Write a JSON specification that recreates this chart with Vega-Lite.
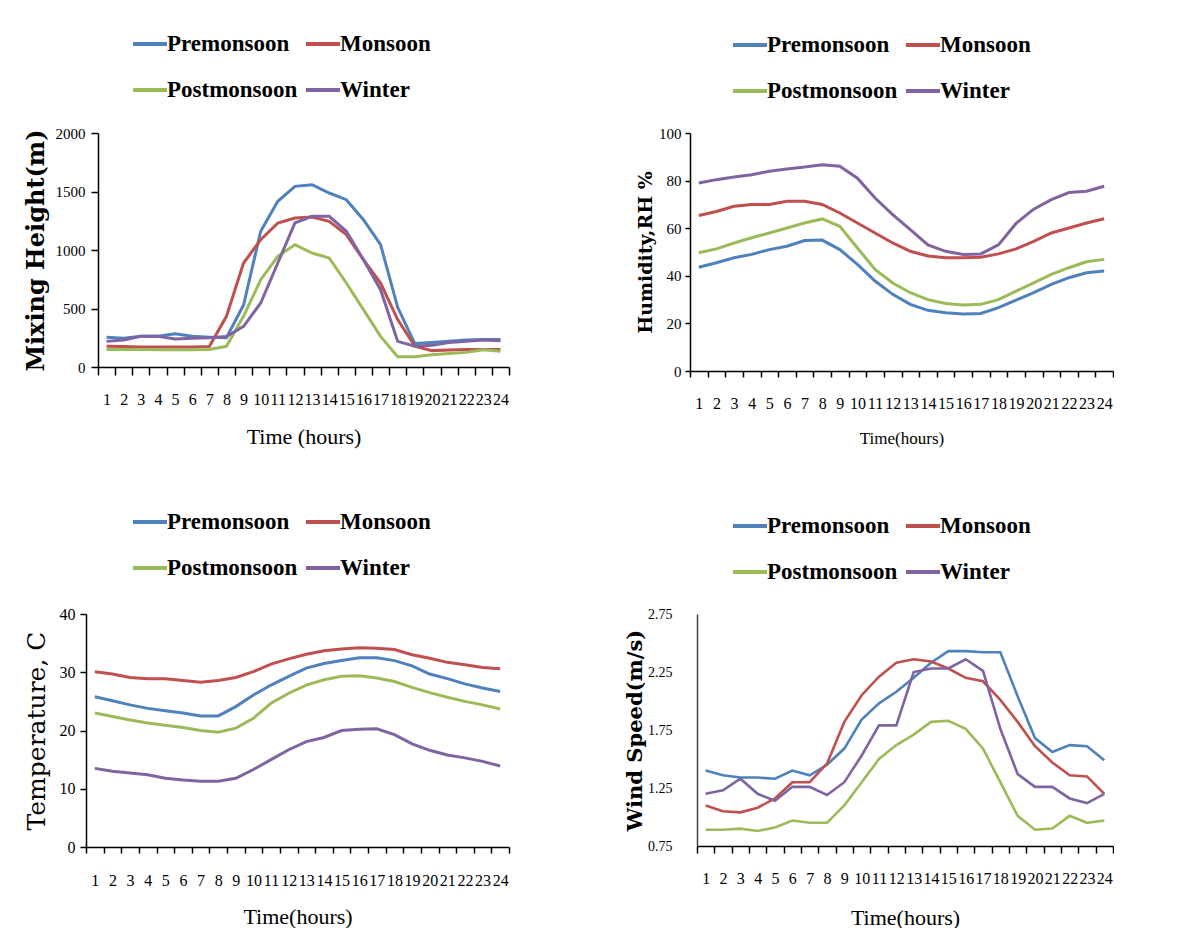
{
  "$schema": "https://vega.github.io/schema/vega-lite/v6.json",
  "padding": {"left": 23, "top": 25, "right": 0, "bottom": 0},
  "background": "white",
  "config": {
    "view": {"stroke": null},
    "axis": {"labelFont": "Liberation Serif", "labelColor": "black", "domainColor": "black", "tickColor": "black", "domainWidth": 1.5, "tickWidth": 1.5, "grid": false, "titleColor": "black"},
    "legend": {"orient": "none", "direction": "horizontal", "columns": 2, "symbolType": "stroke", "symbolSize": 1156, "symbolStrokeWidth": 4, "labelFont": "Liberation Serif", "labelFontSize": 23, "labelFontWeight": "bold", "labelColor": "black", "labelOffset": -2, "columnPadding": 0, "rowPadding": 15, "padding": 0, "labelLimit": 300, "title": null}
  },
  "datasets": {
    "mixing": [
      {"hour": 1, "Premonsoon": 255, "Monsoon": 177, "Postmonsoon": 150, "Winter": 219},
      {"hour": 2, "Premonsoon": 245, "Monsoon": 175, "Postmonsoon": 150, "Winter": 230},
      {"hour": 3, "Premonsoon": 262, "Monsoon": 172, "Postmonsoon": 150, "Winter": 262},
      {"hour": 4, "Premonsoon": 262, "Monsoon": 170, "Postmonsoon": 148, "Winter": 262},
      {"hour": 5, "Premonsoon": 285, "Monsoon": 170, "Postmonsoon": 148, "Winter": 240},
      {"hour": 6, "Premonsoon": 262, "Monsoon": 170, "Postmonsoon": 148, "Winter": 245},
      {"hour": 7, "Premonsoon": 255, "Monsoon": 175, "Postmonsoon": 150, "Winter": 250},
      {"hour": 8, "Premonsoon": 250, "Monsoon": 433, "Postmonsoon": 177, "Winter": 260},
      {"hour": 9, "Premonsoon": 530, "Monsoon": 889, "Postmonsoon": 433, "Winter": 348},
      {"hour": 10, "Premonsoon": 1160, "Monsoon": 1088, "Postmonsoon": 746, "Winter": 547},
      {"hour": 11, "Premonsoon": 1416, "Monsoon": 1231, "Postmonsoon": 946, "Winter": 889},
      {"hour": 12, "Premonsoon": 1544, "Monsoon": 1274, "Postmonsoon": 1046, "Winter": 1231},
      {"hour": 13, "Premonsoon": 1558, "Monsoon": 1282, "Postmonsoon": 974, "Winter": 1288},
      {"hour": 14, "Premonsoon": 1487, "Monsoon": 1245, "Postmonsoon": 932, "Winter": 1288},
      {"hour": 15, "Premonsoon": 1430, "Monsoon": 1131, "Postmonsoon": 718, "Winter": 1160},
      {"hour": 16, "Premonsoon": 1259, "Monsoon": 917, "Postmonsoon": 490, "Winter": 917},
      {"hour": 17, "Premonsoon": 1046, "Monsoon": 718, "Postmonsoon": 262, "Winter": 661},
      {"hour": 18, "Premonsoon": 510, "Monsoon": 405, "Postmonsoon": 88, "Winter": 219},
      {"hour": 19, "Premonsoon": 200, "Monsoon": 177, "Postmonsoon": 88, "Winter": 177},
      {"hour": 20, "Premonsoon": 210, "Monsoon": 140, "Postmonsoon": 105, "Winter": 185},
      {"hour": 21, "Premonsoon": 220, "Monsoon": 145, "Postmonsoon": 115, "Winter": 210},
      {"hour": 22, "Premonsoon": 230, "Monsoon": 150, "Postmonsoon": 125, "Winter": 220},
      {"hour": 23, "Premonsoon": 235, "Monsoon": 150, "Postmonsoon": 148, "Winter": 230},
      {"hour": 24, "Premonsoon": 235, "Monsoon": 150, "Postmonsoon": 134, "Winter": 225}
    ],
    "humidity": [
      {"hour": 1, "Premonsoon": 43.6, "Monsoon": 65.3, "Postmonsoon": 49.7, "Winter": 79},
      {"hour": 2, "Premonsoon": 45.5, "Monsoon": 67, "Postmonsoon": 51.3, "Winter": 80.4},
      {"hour": 3, "Premonsoon": 47.6, "Monsoon": 69.2, "Postmonsoon": 53.8, "Winter": 81.5},
      {"hour": 4, "Premonsoon": 49, "Monsoon": 70, "Postmonsoon": 56, "Winter": 82.5},
      {"hour": 5, "Premonsoon": 51, "Monsoon": 70, "Postmonsoon": 58, "Winter": 83.9},
      {"hour": 6, "Premonsoon": 52.4, "Monsoon": 71.3, "Postmonsoon": 60.1, "Winter": 84.9},
      {"hour": 7, "Premonsoon": 54.8, "Monsoon": 71.3, "Postmonsoon": 62.2, "Winter": 85.7},
      {"hour": 8, "Premonsoon": 55, "Monsoon": 70, "Postmonsoon": 63.9, "Winter": 86.7},
      {"hour": 9, "Premonsoon": 51, "Monsoon": 66.4, "Postmonsoon": 60.8, "Winter": 86},
      {"hour": 10, "Premonsoon": 44.8, "Monsoon": 62.2, "Postmonsoon": 51.7, "Winter": 81},
      {"hour": 11, "Premonsoon": 37.8, "Monsoon": 58, "Postmonsoon": 42.7, "Winter": 72.7},
      {"hour": 12, "Premonsoon": 32.2, "Monsoon": 53.8, "Postmonsoon": 37, "Winter": 65.7},
      {"hour": 13, "Premonsoon": 28, "Monsoon": 50.3, "Postmonsoon": 32.9, "Winter": 59.4},
      {"hour": 14, "Premonsoon": 25.5, "Monsoon": 48.3, "Postmonsoon": 30, "Winter": 53},
      {"hour": 15, "Premonsoon": 24.5, "Monsoon": 47.6, "Postmonsoon": 28.4, "Winter": 50.3},
      {"hour": 16, "Premonsoon": 24, "Monsoon": 47.6, "Postmonsoon": 27.7, "Winter": 49},
      {"hour": 17, "Premonsoon": 24.2, "Monsoon": 47.8, "Postmonsoon": 28, "Winter": 49.2},
      {"hour": 18, "Premonsoon": 26.6, "Monsoon": 49.2, "Postmonsoon": 30, "Winter": 53},
      {"hour": 19, "Premonsoon": 29.8, "Monsoon": 51.3, "Postmonsoon": 33.6, "Winter": 62},
      {"hour": 20, "Premonsoon": 32.9, "Monsoon": 54.5, "Postmonsoon": 37, "Winter": 68},
      {"hour": 21, "Premonsoon": 36.4, "Monsoon": 58, "Postmonsoon": 40.6, "Winter": 72},
      {"hour": 22, "Premonsoon": 39.2, "Monsoon": 60.1, "Postmonsoon": 43.4, "Winter": 75},
      {"hour": 23, "Premonsoon": 41.3, "Monsoon": 62.2, "Postmonsoon": 45.9, "Winter": 75.5},
      {"hour": 24, "Premonsoon": 42, "Monsoon": 64, "Postmonsoon": 46.9, "Winter": 77.6}
    ],
    "temperature": [
      {"hour": 1, "Premonsoon": 25.8, "Monsoon": 30.1, "Postmonsoon": 23, "Winter": 13.5},
      {"hour": 2, "Premonsoon": 25.1, "Monsoon": 29.7, "Postmonsoon": 22.4, "Winter": 13},
      {"hour": 3, "Premonsoon": 24.4, "Monsoon": 29.1, "Postmonsoon": 21.8, "Winter": 12.7},
      {"hour": 4, "Premonsoon": 23.8, "Monsoon": 28.9, "Postmonsoon": 21.3, "Winter": 12.4},
      {"hour": 5, "Premonsoon": 23.4, "Monsoon": 28.9, "Postmonsoon": 20.9, "Winter": 11.8},
      {"hour": 6, "Premonsoon": 23, "Monsoon": 28.6, "Postmonsoon": 20.5, "Winter": 11.5},
      {"hour": 7, "Premonsoon": 22.5, "Monsoon": 28.3, "Postmonsoon": 20, "Winter": 11.3},
      {"hour": 8, "Premonsoon": 22.5, "Monsoon": 28.6, "Postmonsoon": 19.7, "Winter": 11.3},
      {"hour": 9, "Premonsoon": 24.1, "Monsoon": 29.1, "Postmonsoon": 20.4, "Winter": 11.8},
      {"hour": 10, "Premonsoon": 26.1, "Monsoon": 30.1, "Postmonsoon": 22.1, "Winter": 13.3},
      {"hour": 11, "Premonsoon": 27.8, "Monsoon": 31.4, "Postmonsoon": 24.7, "Winter": 15},
      {"hour": 12, "Premonsoon": 29.3, "Monsoon": 32.3, "Postmonsoon": 26.4, "Winter": 16.7},
      {"hour": 13, "Premonsoon": 30.7, "Monsoon": 33.1, "Postmonsoon": 27.8, "Winter": 18.1},
      {"hour": 14, "Premonsoon": 31.5, "Monsoon": 33.7, "Postmonsoon": 28.7, "Winter": 18.8},
      {"hour": 15, "Premonsoon": 32, "Monsoon": 34, "Postmonsoon": 29.3, "Winter": 20},
      {"hour": 16, "Premonsoon": 32.5, "Monsoon": 34.2, "Postmonsoon": 29.4, "Winter": 20.2},
      {"hour": 17, "Premonsoon": 32.5, "Monsoon": 34.1, "Postmonsoon": 29, "Winter": 20.3},
      {"hour": 18, "Premonsoon": 32, "Monsoon": 33.9, "Postmonsoon": 28.4, "Winter": 19.3},
      {"hour": 19, "Premonsoon": 31.1, "Monsoon": 33, "Postmonsoon": 27.4, "Winter": 17.7},
      {"hour": 20, "Premonsoon": 29.7, "Monsoon": 32.4, "Postmonsoon": 26.5, "Winter": 16.6},
      {"hour": 21, "Premonsoon": 28.9, "Monsoon": 31.7, "Postmonsoon": 25.7, "Winter": 15.8},
      {"hour": 22, "Premonsoon": 28, "Monsoon": 31.3, "Postmonsoon": 25, "Winter": 15.3},
      {"hour": 23, "Premonsoon": 27.3, "Monsoon": 30.8, "Postmonsoon": 24.4, "Winter": 14.7},
      {"hour": 24, "Premonsoon": 26.7, "Monsoon": 30.6, "Postmonsoon": 23.7, "Winter": 13.9}
    ],
    "wind": [
      {"hour": 1, "Premonsoon": 1.40, "Monsoon": 1.10, "Postmonsoon": 0.89, "Winter": 1.20},
      {"hour": 2, "Premonsoon": 1.36, "Monsoon": 1.05, "Postmonsoon": 0.89, "Winter": 1.23},
      {"hour": 3, "Premonsoon": 1.34, "Monsoon": 1.04, "Postmonsoon": 0.90, "Winter": 1.33},
      {"hour": 4, "Premonsoon": 1.34, "Monsoon": 1.08, "Postmonsoon": 0.88, "Winter": 1.20},
      {"hour": 5, "Premonsoon": 1.33, "Monsoon": 1.16, "Postmonsoon": 0.91, "Winter": 1.14},
      {"hour": 6, "Premonsoon": 1.40, "Monsoon": 1.30, "Postmonsoon": 0.97, "Winter": 1.26},
      {"hour": 7, "Premonsoon": 1.36, "Monsoon": 1.30, "Postmonsoon": 0.95, "Winter": 1.26},
      {"hour": 8, "Premonsoon": 1.45, "Monsoon": 1.46, "Postmonsoon": 0.95, "Winter": 1.19},
      {"hour": 9, "Premonsoon": 1.59, "Monsoon": 1.82, "Postmonsoon": 1.10, "Winter": 1.30},
      {"hour": 10, "Premonsoon": 1.84, "Monsoon": 2.05, "Postmonsoon": 1.30, "Winter": 1.53},
      {"hour": 11, "Premonsoon": 1.98, "Monsoon": 2.21, "Postmonsoon": 1.50, "Winter": 1.79},
      {"hour": 12, "Premonsoon": 2.08, "Monsoon": 2.33, "Postmonsoon": 1.62, "Winter": 1.79},
      {"hour": 13, "Premonsoon": 2.20, "Monsoon": 2.36, "Postmonsoon": 1.71, "Winter": 2.25},
      {"hour": 14, "Premonsoon": 2.33, "Monsoon": 2.34, "Postmonsoon": 1.82, "Winter": 2.28},
      {"hour": 15, "Premonsoon": 2.43, "Monsoon": 2.28, "Postmonsoon": 1.83, "Winter": 2.28},
      {"hour": 16, "Premonsoon": 2.43, "Monsoon": 2.20, "Postmonsoon": 1.76, "Winter": 2.36},
      {"hour": 17, "Premonsoon": 2.42, "Monsoon": 2.17, "Postmonsoon": 1.59, "Winter": 2.26},
      {"hour": 18, "Premonsoon": 2.42, "Monsoon": 2.01, "Postmonsoon": 1.30, "Winter": 1.76},
      {"hour": 19, "Premonsoon": 2.04, "Monsoon": 1.82, "Postmonsoon": 1.01, "Winter": 1.37},
      {"hour": 20, "Premonsoon": 1.68, "Monsoon": 1.61, "Postmonsoon": 0.89, "Winter": 1.26},
      {"hour": 21, "Premonsoon": 1.56, "Monsoon": 1.47, "Postmonsoon": 0.90, "Winter": 1.26},
      {"hour": 22, "Premonsoon": 1.62, "Monsoon": 1.36, "Postmonsoon": 1.01, "Winter": 1.16},
      {"hour": 23, "Premonsoon": 1.61, "Monsoon": 1.35, "Postmonsoon": 0.95, "Winter": 1.12},
      {"hour": 24, "Premonsoon": 1.49, "Monsoon": 1.20, "Postmonsoon": 0.97, "Winter": 1.20}
    ]
  },
  "resolve": {"scale": {"color": "independent"}, "legend": {"color": "independent"}},
  "bounds": "full",
  "spacing": 56,
  "vconcat": [
    {
      "bounds": "flush",
      "spacing": 0,
      "resolve": {"scale": {"color": "independent"}, "legend": {"color": "independent"}},
      "hconcat": [
        {"width": 12, "height": 234, "data": {"values": []}, "mark": "point"},
        {
          "bounds": "flush",
          "spacing": 181,
          "resolve": {"scale": {"color": "independent"}, "legend": {"color": "independent"}},
          "hconcat": [
            {
              "width": 411, "height": 234,
              "data": {"name": "mixing"},
              "transform": [{"fold": ["Premonsoon", "Monsoon", "Postmonsoon", "Winter"], "as": ["season", "value"]}],
              "mark": {"type": "line", "strokeWidth": 3},
              "encoding": {
                "x": {"field": "hour", "type": "ordinal", "bandPosition": 0.5, "scale": {"type": "band", "paddingInner": 0, "paddingOuter": 0},
                  "axis": {"title": "Time (hours)", "labelAngle": 0, "tickBand": "extent", "tickSize": 8, "labelPadding": 16, "labelFontSize": 16, "labelOverlap": false, "titleFont": "Liberation Serif", "titleFontSize": 22, "titleFontWeight": "normal", "titlePadding": 19}},
                "y": {"field": "value", "type": "quantitative", "scale": {"domain": [0, 2000]},
                  "axis": {"title": "Mixing Height(m)", "values": [0, 500, 1000, 1500, 2000], "format": "d", "tickSize": 7, "labelPadding": 6, "labelFontSize": 15, "titleFont": "DejaVu Serif", "titleFontSize": 24, "titleFontWeight": "bold", "titlePadding": 7}},
                "color": {"field": "season", "type": "nominal", "scale": {"domain": ["Premonsoon", "Monsoon", "Postmonsoon", "Winter"], "range": ["#4F81BD", "#C0504D", "#9BBB59", "#8064A2"]}, "legend": {"legendX": 33, "legendY": -108}}
              }
            },
            {
              "width": 423, "height": 238,
              "data": {"name": "humidity"},
              "transform": [{"fold": ["Premonsoon", "Monsoon", "Postmonsoon", "Winter"], "as": ["season", "value"]}],
              "mark": {"type": "line", "strokeWidth": 3},
              "encoding": {
                "x": {"field": "hour", "type": "ordinal", "bandPosition": 0.5, "scale": {"type": "band", "paddingInner": 0, "paddingOuter": 0},
                  "axis": {"title": "Time(hours)", "labelAngle": 0, "tickBand": "extent", "tickSize": 6, "labelPadding": 18, "labelFontSize": 16, "labelOverlap": false, "titleFont": "Liberation Serif", "titleFontSize": 17, "titleFontWeight": "normal", "titlePadding": 19}},
                "y": {"field": "value", "type": "quantitative", "scale": {"domain": [0, 100]},
                  "axis": {"title": "Humidity,RH %", "values": [0, 20, 40, 60, 80, 100], "tickSize": 5, "labelPadding": 4, "labelFontSize": 15, "titleFont": "DejaVu Serif", "titleFontSize": 19, "titleFontWeight": "bold", "titlePadding": 3}},
                "color": {"field": "season", "type": "nominal", "scale": {"domain": ["Premonsoon", "Monsoon", "Postmonsoon", "Winter"], "range": ["#4F81BD", "#C0504D", "#9BBB59", "#8064A2"]}, "legend": {"legendX": 41, "legendY": -107}}
              }
            }
          ]
        }
      ]
    },
    {
      "bounds": "flush",
      "spacing": 188,
      "resolve": {"scale": {"color": "independent"}, "legend": {"color": "independent"}},
      "hconcat": [
        {
          "width": 423, "height": 233,
          "data": {"name": "temperature"},
          "transform": [{"fold": ["Premonsoon", "Monsoon", "Postmonsoon", "Winter"], "as": ["season", "value"]}],
          "mark": {"type": "line", "strokeWidth": 3},
          "encoding": {
            "x": {"field": "hour", "type": "ordinal", "bandPosition": 0.5, "scale": {"type": "band", "paddingInner": 0, "paddingOuter": 0},
              "axis": {"title": "Time(hours)", "labelAngle": 0, "tickBand": "extent", "tickSize": 6, "labelPadding": 19, "labelFontSize": 16, "labelOverlap": false, "titleFont": "Liberation Serif", "titleFontSize": 22, "titleFontWeight": "normal", "titlePadding": 18}},
            "y": {"field": "value", "type": "quantitative", "scale": {"domain": [0, 40]},
              "axis": {"title": "Temperature, C", "values": [0, 10, 20, 30, 40], "tickSize": 6, "labelPadding": 5, "labelFontSize": 16, "titleFont": "DejaVu Serif", "titleFontSize": 25, "titleFontWeight": "normal", "titlePadding": 10}},
            "color": {"field": "season", "type": "nominal", "scale": {"domain": ["Premonsoon", "Monsoon", "Postmonsoon", "Winter"], "range": ["#4F81BD", "#C0504D", "#9BBB59", "#8064A2"]}, "legend": {"legendX": 45, "legendY": -111}}
          }
        },
        {
          "width": 416, "height": 232,
          "data": {"name": "wind"},
          "transform": [{"fold": ["Premonsoon", "Monsoon", "Postmonsoon", "Winter"], "as": ["season", "value"]}],
          "mark": {"type": "line", "strokeWidth": 2.6},
          "encoding": {
            "x": {"field": "hour", "type": "ordinal", "bandPosition": 0.5, "scale": {"type": "band", "paddingInner": 0, "paddingOuter": 0},
              "axis": {"title": "Time(hours)", "labelAngle": 0, "tickBand": "extent", "tickSize": 7, "labelPadding": 17, "labelFontSize": 16, "labelOverlap": false, "titleFont": "Liberation Serif", "titleFontSize": 22, "titleFontWeight": "normal", "titlePadding": 21}},
            "y": {"field": "value", "type": "quantitative", "scale": {"domain": [0.75, 2.75]},
              "axis": {"title": "Wind Speed(m/s)", "values": [0.75, 1.25, 1.75, 2.25, 2.75], "format": ".2f", "ticks": false, "labelPadding": 25, "labelFontSize": 14, "domainColor": "#444444", "titleFont": "DejaVu Serif", "titleFontSize": 21, "titleFontWeight": "bold", "titlePadding": 2}},
            "color": {"field": "season", "type": "nominal", "scale": {"domain": ["Premonsoon", "Monsoon", "Postmonsoon", "Winter"], "range": ["#4F81BD", "#C0504D", "#9BBB59", "#8064A2"]}, "legend": {"legendX": 34, "legendY": -107}}
          }
        }
      ]
    }
  ]
}
